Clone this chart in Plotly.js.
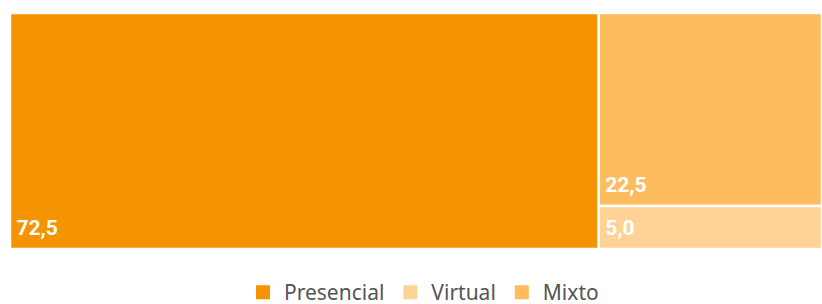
<!DOCTYPE html>
<html><head><meta charset="utf-8">
<script src="https://cdn.plot.ly/plotly-3.0.1.min.js"></script>
<style>html,body{margin:0;padding:0;background:#fff}</style>
</head><body>
<div id="chart" style="width:822px;height:304px"></div>
<script>
const categories = ["Presencial", "Virtual", "Mixto"];
const values = [72.5, 5.0, 22.5];
const colors = ["#F59300", "#FED395", "#FDBD5F"];

const treemap = {
  type: "treemap",
  labels: categories,
  parents: categories.map(() => ""),
  values: values,
  marker: { colors: colors, line: { width: 2.5, color: "#ffffff" }, pad: { t: 0, l: 0, r: 0, b: 0 } },
  tiling: { packing: "squarify", pad: 0 },
  pathbar: { visible: false },
  sort: true,
  texttemplate: "&nbsp;&nbsp;<span style='font-size:21px;font-weight:bold'>%{value:.1f}</span><br>&nbsp;",
  textposition: "bottom left",
  textfont: { family: "Roboto, Liberation Sans, sans-serif", size: 7, color: "#ffffff" },
  hoverinfo: "label+value",
  showlegend: false,
  domain: { x: [0, 1], y: [0, 1] }
};

const legendTraces = categories.map((c, i) => ({
  type: "scatter", mode: "markers", name: c,
  x: [null], y: [null],
  marker: { symbol: "square", size: 14, color: colors[i] },
  showlegend: true, hoverinfo: "skip"
}));

const layout = {
  width: 822, height: 304,
  margin: { l: 10, r: 0, t: 13, b: 55, autoexpand: false },
  paper_bgcolor: "#ffffff", plot_bgcolor: "#ffffff",
  separators: ",.",
  xaxis: { visible: false }, yaxis: { visible: false },
  showlegend: true,
  legend: {
    orientation: "h", x: 0.5086, xanchor: "center", y: -0.098, yanchor: "top",
    font: { family: "Noto Sans, Open Sans, sans-serif", size: 21, color: "#555555" },
    itemwidth: 32, tracegroupgap: 0
  }
};

Plotly.newPlot("chart", [treemap, ...legendTraces], layout, { displayModeBar: false, staticPlot: true });
</script>
</body></html>
